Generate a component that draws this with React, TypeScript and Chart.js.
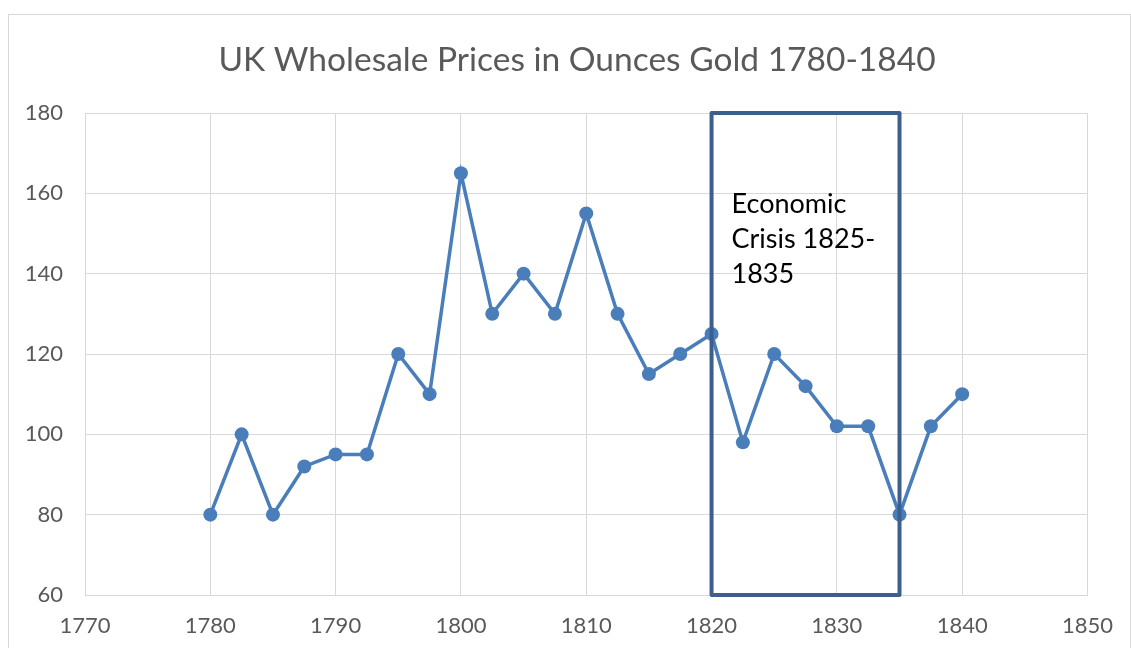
import React, { useEffect, useRef } from "react";
import { Chart, registerables } from "chart.js";

Chart.register(...registerables);

const years: number[] = [
  1780, 1782.5, 1785, 1787.5, 1790, 1792.5, 1795, 1797.5, 1800, 1802.5, 1805, 1807.5,
  1810, 1812.5, 1815, 1817.5, 1820, 1822.5, 1825, 1827.5, 1830, 1832.5, 1835, 1837.5, 1840,
];
const prices: number[] = [
  80, 100, 80, 92, 95, 95, 120, 110, 165, 130, 140, 130,
  155, 130, 115, 120, 125, 98, 120, 112, 102, 102, 80, 102, 110,
];
const titleText = "UK Wholesale Prices in Ounces Gold 1780-1840";
const crisisBox = { x0: 1820, x1: 1835, y0: 60, y1: 180 };
const crisisLines: string[] = ["Economic", "Crisis 1825-", "1835"];

const FONT = "Lato, 'Open Sans', 'Liberation Sans', sans-serif";

const decorPlugin = {
  id: "decor",
  beforeDraw(chart: any) {
    const ctx = chart.ctx;
    ctx.save();
    ctx.fillStyle = "#ffffff";
    ctx.fillRect(0, 0, chart.width, chart.height);
    ctx.strokeStyle = "#d9d9d9";
    ctx.lineWidth = 1;
    ctx.strokeRect(8.5, 14.5, 1122, 700);
    ctx.fillStyle = "#595959";
    ctx.font = `33.5px ${FONT}`;
    ctx.textAlign = "center";
    ctx.textBaseline = "middle";
    ctx.fillText(titleText, 577, 60);
    ctx.restore();
  },
  afterDatasetsDraw(chart: any) {
    const ctx = chart.ctx;
    const xs = chart.scales.x;
    const ys = chart.scales.y;
    const l = xs.getPixelForValue(crisisBox.x0);
    const r = xs.getPixelForValue(crisisBox.x1);
    const t = ys.getPixelForValue(crisisBox.y1);
    const b = ys.getPixelForValue(crisisBox.y0);
    ctx.save();
    ctx.strokeStyle = "#3d5f8e";
    ctx.lineWidth = 4;
    ctx.lineJoin = "round";
    ctx.strokeRect(l, t, r - l, b - t);
    ctx.fillStyle = "#000000";
    ctx.font = `27px ${FONT}`;
    ctx.textAlign = "left";
    ctx.textBaseline = "alphabetic";
    const baselines = [213, 248, 283];
    crisisLines.forEach((s, i) => ctx.fillText(s, l + 20, baselines[i]));
    ctx.restore();
  },
};

export default function App() {
  const ref = useRef<HTMLCanvasElement | null>(null);
  useEffect(() => {
    if (!ref.current) return;
    const chart = new Chart(ref.current, {
      type: "scatter",
      data: {
        datasets: [
          {
            label: "Price",
            data: years.map((x, i) => ({ x, y: prices[i] })),
            showLine: true,
            borderColor: "#4a7ebb",
            backgroundColor: "#4a7ebb",
            borderWidth: 3.5,
            pointRadius: 7,
            pointHoverRadius: 7,
            pointBorderWidth: 0,
          },
        ],
      },
      plugins: [decorPlugin],
      options: {
        responsive: false,
        animation: false,
        layout: { padding: { left: 0, right: 33, top: 113, bottom: 0 } },
        plugins: {
          legend: { display: false },
          title: { display: false },
          tooltip: { enabled: false },
        },
        scales: {
          x: {
            type: "linear",
            min: 1770,
            max: 1850,
            ticks: {
              stepSize: 10,
              color: "#595959",
              font: { family: FONT, size: 22 },
              padding: 18,
              callback: (v: any) => String(v),
            },
            grid: { color: "#d9d9d9", drawTicks: false, lineWidth: 1 },
            border: { color: "#d9d9d9" },
            afterFit: (s: any) => { s.height = 53; },
          },
          y: {
            min: 60,
            max: 180,
            ticks: { stepSize: 20, color: "#595959", font: { family: FONT, size: 22 }, padding: 22 },
            grid: { color: "#d9d9d9", drawTicks: false, lineWidth: 1 },
            border: { color: "#d9d9d9" },
            afterFit: (s: any) => { s.width = 85; },
          },
        },
      },
    });
    return () => chart.destroy();
  }, []);
  return (
    <div style={{ position: "absolute", left: 0, top: 0, width: 1131, height: 648 }}>
      <canvas ref={ref} width={1131} height={648} style={{ width: 1131, height: 648 }} />
    </div>
  );
}
